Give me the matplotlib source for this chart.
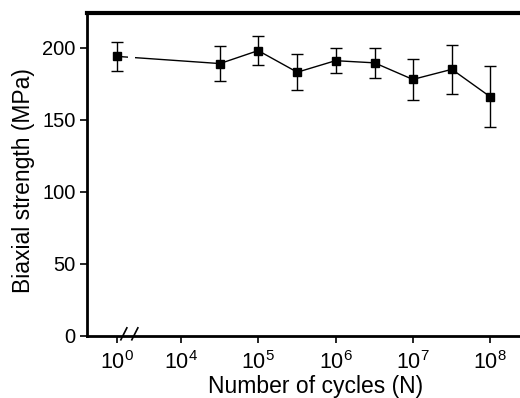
import numpy as np
import matplotlib
matplotlib.use("Agg")
import matplotlib.pyplot as plt

plt.rcParams['font.family'] = ['Liberation Sans', 'DejaVu Sans']
plt.rcParams['mathtext.default'] = 'regular'

# Data
cycles = np.array([1, 3.2e4, 1e5, 3.2e5, 1e6, 3.2e6, 1e7, 3.2e7, 1e8])
strength = np.array([194, 189, 198, 183, 191, 189.5, 178, 185, 166])
err = np.array([10, 12, 10, 12.5, 8.5, 10.5, 14, 17, 21])
tick_vals = [1, 1e4, 1e5, 1e6, 1e7, 1e8]
tick_labels = ['$10^{0}$', '$10^{4}$', '$10^{5}$', '$10^{6}$', '$10^{7}$', '$10^{8}$']

# broken axis: N=1 is drawn at a position just left of the break
BREAK_POS = 10 ** 3.17
def xmap(v):
    v = np.asarray(v, dtype=float)
    return np.where(v == 1, BREAK_POS, v)

fig = plt.figure(figsize=(5.2, 3.98), dpi=100)
# the original axes box extends past the right edge of the picture
ax = fig.add_axes([0.167, 0.156, 0.881, 0.811])

xp = xmap(cycles)
ax.plot(xp, strength, color='black', lw=1.0, zorder=2)
# gap in the connecting line at the axis break
ax.axvspan(10 ** 3.32, 10 ** 3.405, ymin=0.03, ymax=0.99, color='white', zorder=2.5, lw=0)
ax.errorbar(xp, strength, yerr=err, fmt='s', color='black', ms=5.5,
            ecolor='black', elinewidth=1.0, capsize=4.3, capthick=1.0, zorder=3)

ax.set_xscale('log')
ax.set_xlim(10 ** 2.784, 10 ** 8.709)
ax.set_ylim(0, 224)
ax.set_xticks(xmap(tick_vals))
ax.set_xticklabels(tick_labels)
ax.minorticks_off()
ax.set_yticks([0, 50, 100, 150, 200])

ax.spines['right'].set_visible(False)
ax.spines['top'].set_linewidth(3)
ax.spines['left'].set_linewidth(2)
ax.spines['bottom'].set_linewidth(2)
ax.tick_params(direction='out', length=5, width=1.2)
ax.tick_params(axis='y', labelsize=14.5, pad=3)
ax.tick_params(axis='x', labelsize=15.5, pad=6)

ax.set_xlabel('Number of cycles (N)', fontsize=16.5, labelpad=1)
ax.set_ylabel('Biaxial strength (MPa)', fontsize=16.5, labelpad=5, y=0.48)

# break marks on the x axis
d = 0.0066
for xa in (0.0808, 0.1048):
    ax.plot([xa - d, xa + d], [-0.012, 0.025], transform=ax.transAxes,
            color='black', lw=1.2, clip_on=False, zorder=4)

fig.savefig('out.png', dpi=100)
